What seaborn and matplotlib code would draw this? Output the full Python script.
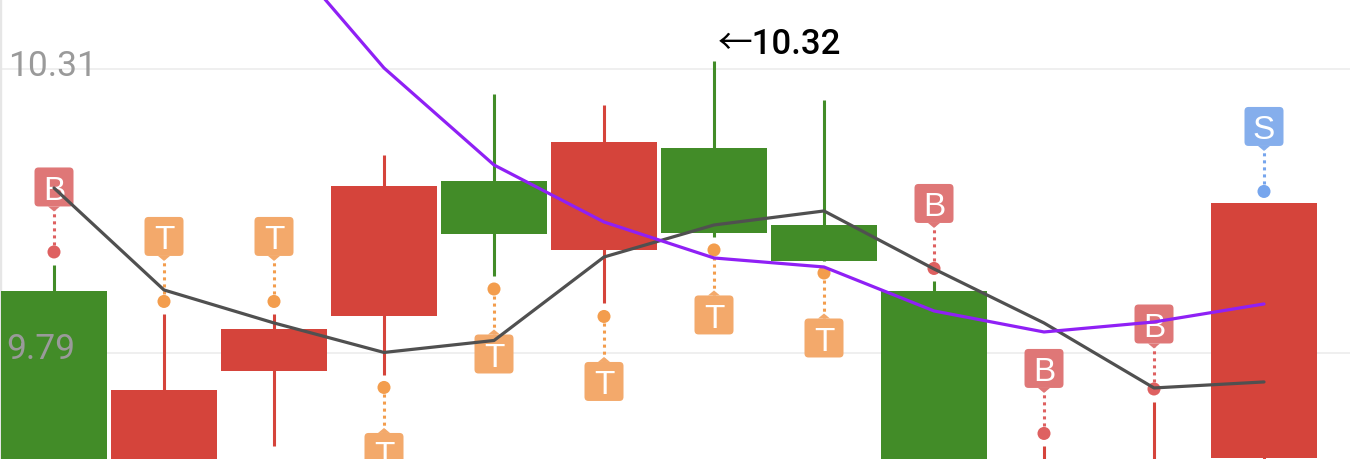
import matplotlib
matplotlib.use("Agg")
import matplotlib.pyplot as plt
from matplotlib.patches import FancyBboxPatch, Polygon
from matplotlib.transforms import IdentityTransform
import pandas as pd
import seaborn as sns

candle_idx = [0, 1, 2, 3, 4, 5, 6, 7, 8, 9, 10, 11]
candle_up = [9.9035, 9.7222, 9.8330, 10.0948, 10.1049, 10.1754, 10.1653, 10.0243, 9.9035, 9.5574, 9.5574, 10.0646]
candle_low = [9.4842, 9.4109, 9.7570, 9.8577, 10.0078, 9.9786, 10.0088, 9.9584, 9.4842, 9.4109, 9.4109, 9.5977]
wick_high = [9.9511, 9.8614, 9.8614, 10.1525, 10.2633, 10.2431, 10.3237, 10.2532, 9.9209, 9.6197, 9.6993, 10.0646]
wick_low = [9.4000, 9.3750, 9.6197, 9.7497, 9.9309, 9.8815, 10.0014, 9.9584, 9.4476, 9.3750, 9.3750, 9.5208]
candle_kind = ["g", "r", "r", "r", "g", "r", "g", "g", "g", "r", "r", "r"]

dark_line = [10.0921, 9.9053, 9.8449, 9.7909, 9.8128, 9.9657, 10.0243, 10.0500, 9.9438, 9.8449, 9.7259, 9.7369]
purple_idx = [2, 3, 4, 5, 6, 7, 8, 9, 10, 11]
purple_line = [10.5462, 10.3118, 10.1342, 10.0298, 9.9639, 9.9474, 9.8669, 9.8284, 9.8467, 9.8797]

pin_values = [9.9749, 9.8843, 9.8843, 9.7268, 9.9071, 9.8568, 9.9786, 9.9364, 9.9447, 9.6426, 9.7240, 10.0857]
pin_labels = ["B", "T", "T", "T", "T", "T", "T", "T", "B", "B", "B", "S"]
pin_side = ["up", "up", "up", "down", "down", "down", "down", "down", "up", "up", "up", "up"]

grid_values = [10.31, 9.79]
grid_labels = ["10.31", "9.79"]
high_idx = 6
high_label = "\u219010.32"

colors = {"g": "#428C28", "r": "#D5443B"}
box_colors = {"B": "#DF7777", "T": "#F3A96B", "S": "#85AEEC"}
dot_colors = {"B": "#DE6060", "T": "#F39D4D", "S": "#76A5ED"}

sns.set_theme(style="white")
plt.rcParams['font.family'] = ['Roboto', 'Noto Sans CJK SC', 'DejaVu Sans']

fig = plt.figure(figsize=(13.5, 4.6), dpi=100)
ax = fig.add_axes([0, 0, 1, 1])

df = pd.DataFrame({"i": candle_idx, "up": candle_up, "low": candle_low,
                   "high": wick_high, "bottom": wick_low, "kind": candle_kind})
bar_colors = df["kind"].map(colors)

for v in grid_values:
    ax.axhline(v, color="#EBEBEB", lw=1.1, zorder=1)

ax.vlines(df["i"], df["bottom"], df["high"], colors=bar_colors, lw=2.2, zorder=2)
ax.bar(df["i"], df["up"] - df["low"], bottom=df["low"], width=0.968, color=bar_colors, linewidth=0, zorder=3)

sns.lineplot(x=candle_idx, y=dark_line, color="#505050", lw=2.3, ax=ax, zorder=6, sort=False, errorbar=None)
sns.lineplot(x=purple_idx, y=purple_line, color="#8F20F5", lw=2.3, ax=ax, zorder=7, sort=False, errorbar=None)

sns.scatterplot(x=candle_idx, y=pin_values, hue=pin_labels, palette=dot_colors, s=88, linewidth=0,
                ax=ax, zorder=4, legend=False)

xmin = -54 / 110
xmax = (1350 - 54) / 110
ax.set_xlim(xmin, xmax)
ax.set_ylim(9.5958, 10.4381)
ax.axvline(xmin, color="#E6E6E6", lw=2.4, zorder=1)
ax.set_axis_off()

# pins are in screen pixels, the box sits 65px away from its dot
for i, v, label, side in zip(candle_idx, pin_values, pin_labels, pin_side):
    px, py = ax.transData.transform((i, v))
    sign = 1 if side == "up" else -1
    cy = py + sign * 65
    edge = cy - sign * 19.5
    ident = IdentityTransform()
    ax.plot([px, px], [py, edge], transform=ident, color=dot_colors[label], lw=2.2,
            linestyle=(0, (1, 1.3)), zorder=4, dash_capstyle="butt")
    ax.add_patch(FancyBboxPatch((px - 17.5, cy - 17.5), 35, 35, boxstyle="round,pad=2,rounding_size=4",
                                transform=ident, facecolor=box_colors[label], edgecolor="none", zorder=5))
    ax.add_patch(Polygon([[px - 6, edge], [px + 6, edge], [px, edge - sign * 5]], transform=ident,
                         facecolor=box_colors[label], edgecolor="none", zorder=5))
    ax.text(px, cy, label, transform=ident, color="white", fontsize=24,
            family=["Liberation Sans", "DejaVu Sans"], ha="center", va="center_baseline", zorder=5.5)

label_offsets = [(8, -6), (6, -5)]
for v, label, off in zip(grid_values, grid_labels, label_offsets):
    ax.annotate(label, xy=(0, v), xycoords=("axes fraction", "data"), xytext=off, textcoords="offset pixels",
                color="#9A9A9A", fontsize=25.5, ha="left", va="baseline", zorder=8)

ax.annotate(high_label, xy=(high_idx, wick_high[high_idx]), xytext=(4, 8.5), textcoords="offset pixels",
            color="#000000", fontsize=25, fontweight="medium", ha="left", va="baseline", zorder=8)

fig.savefig("out.png", dpi=100)
